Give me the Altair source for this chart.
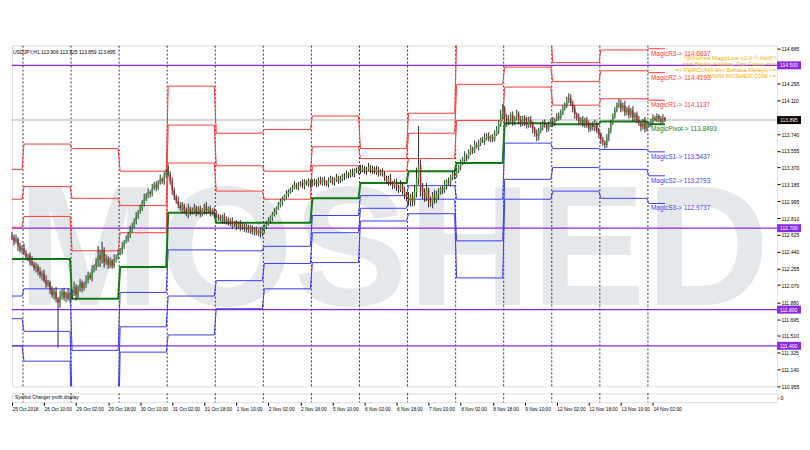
import json
import altair as alt
import pandas as pd

# ---------------- data ----------------
FIRST_OPEN = 112.62
CLOSE = [
    112.60, 112.55, 112.58, 112.50, 112.46, 112.48,
    112.42, 112.38, 112.40, 112.33, 112.30, 112.26, 112.28,
    112.22, 112.18, 112.20, 112.12, 112.08, 112.10,
    112.02, 111.96, 112.00, 111.92,
    111.88,
    111.95, 112.00, 111.93, 111.98, 111.92, 111.96,
    111.98, 112.05, 111.96, 112.02, 112.10, 112.04, 112.08,
    112.12, 112.18, 112.15, 112.24, 112.28, 112.33,
    112.40, 112.35, 112.45, 112.32, 112.36,
    112.30, 112.34, 112.28, 112.36, 112.38, 112.42,
    112.45, 112.50, 112.55, 112.58, 112.63, 112.68, 112.72,
    112.78, 112.83, 112.88, 112.92, 112.98, 113.02,
    113.06, 113.10, 113.08, 113.14, 113.18, 113.15,
    113.20, 113.24, 113.22, 113.28, 113.32, 113.30,
    113.22, 113.12, 113.05, 113.00, 112.96, 112.92,
    112.95, 112.90, 112.86, 112.92, 112.88, 112.90,
    112.93, 112.88, 112.91, 112.86, 112.90, 112.94, 112.89, 112.92, 112.87, 112.90, 112.86, 112.84,
    112.82, 112.80, 112.83, 112.78, 112.80, 112.76, 112.78, 112.74, 112.76, 112.72, 112.75, 112.71,
    112.73, 112.70, 112.72, 112.68, 112.70, 112.66, 112.69, 112.65, 112.67, 112.64, 112.68, 112.72,
    112.75, 112.78, 112.82, 112.85, 112.88, 112.92, 112.96, 112.99,
    113.02, 113.05, 113.08, 113.10, 113.13, 113.15, 113.18, 113.16,
    113.18, 113.20, 113.17, 113.21, 113.19, 113.22, 113.18, 113.20,
    113.22, 113.19, 113.23, 113.20, 113.24, 113.21, 113.18, 113.22, 113.25, 113.21, 113.23, 113.26, 113.22, 113.25, 113.28,
    113.27, 113.30, 113.28, 113.32, 113.30, 113.34, 113.33, 113.36,
    113.34, 113.37, 113.33, 113.35, 113.38, 113.34, 113.36, 113.32, 113.35, 113.31, 113.33, 113.29,
    113.26, 113.22, 113.25, 113.20, 113.17, 113.21, 113.16, 113.13, 113.18, 113.12,
    113.08, 113.04, 113.00, 113.05, 112.99,
    113.10, 113.25, 113.40, 113.15,
    113.10, 113.05, 113.12, 113.00, 112.98, 113.06, 113.02, 113.08,
    113.10, 113.14, 113.12, 113.18, 113.22, 113.20, 113.26, 113.30, 113.28, 113.34, 113.38, 113.42,
    113.46, 113.50, 113.48, 113.54, 113.58, 113.56, 113.62, 113.60, 113.64, 113.68, 113.66, 113.70,
    113.72, 113.68, 113.71, 113.69, 113.74, 113.78,
    113.85, 113.95, 114.02, 113.92, 113.88,
    113.90, 113.95, 113.88, 113.92, 113.96, 113.90, 113.86, 113.92, 113.88, 113.84, 113.90,
    113.85, 113.80, 113.75, 113.72, 113.78, 113.82, 113.86, 113.84,
    113.80, 113.84, 113.88, 113.86, 113.90, 113.94, 113.92,
    113.98, 114.02, 114.06, 114.10, 114.14, 114.08,
    114.02, 113.96, 113.92, 113.88, 113.90,
    113.86, 113.90, 113.84, 113.80, 113.85, 113.82, 113.86, 113.78,
    113.74, 113.68, 113.65, 113.62, 113.70,
    113.78, 113.86, 113.94, 114.00, 114.06, 114.08,
    114.02, 114.06, 113.98, 114.02, 113.95, 114.00, 113.92, 113.96, 113.90,
    113.86, 113.82, 113.88, 113.80, 113.84, 113.86,
    113.88, 113.92, 113.90, 113.94, 113.91, 113.88, 113.92, 113.895,
]
# upper / lower shadows in 0.01 yen
UP = [
    4,3,5,2,4,3,5,4,2,3,6,3,4,2,5,3,4,6,3,2,
    4,3,5,2,6,3,4,2,5,3,4,6,3,5,4,2,3,6,4,3,
    5,2,4,10,6,10,4,5,3,4,2,5,3,4,3,5,2,4,3,5,
    4,3,5,2,4,3,6,3,4,2,5,3,4,3,5,2,4,3,7,3,
    4,3,2,5,3,4,2,3,5,2,3,4,2,3,4,2,3,5,2,3,
    2,3,4,2,3,2,4,3,2,3,4,2,3,2,4,3,2,3,2,4,
    3,2,3,2,4,3,2,3,4,2,3,4,2,3,4,3,2,4,3,2,
    3,4,2,3,2,4,3,2,3,2,4,3,2,3,4,2,3,2,4,3,
    2,3,4,2,3,2,3,4,2,3,4,2,3,2,4,3,2,3,4,2,
    3,2,4,3,2,3,4,2,3,5,2,3,4,2,5,3,4,2,6,3,
    5,8,12,43,6,5,4,8,3,5,4,6,3,4,2,3,5,2,4,3,
    2,4,3,2,4,3,5,2,3,4,2,5,3,4,2,3,5,3,4,2,
    3,4,5,4,6,5,3,4,5,3,4,2,5,3,4,2,3,5,3,4,
    3,2,4,3,5,3,4,2,4,3,5,2,3,4,3,4,3,5,5,4,
    3,4,2,5,3,4,2,3,5,2,3,4,2,3,2,3,2,4,3,4,
    3,4,3,5,4,3,5,2,4,3,5,2,3,4,2,3,5,3,2,3,
    4,2,3,2,3,4,1,
]
DN = [
    3,4,2,5,3,4,2,3,5,4,2,3,5,4,3,6,2,4,3,5,
    3,5,4,50,6,4,3,5,2,4,5,3,6,4,2,5,3,4,3,2,
    4,3,5,6,8,4,6,3,5,4,3,2,4,3,2,4,3,2,3,4,
    3,2,4,3,2,3,4,2,3,4,3,2,4,3,2,3,4,2,3,4,
    5,4,3,4,3,5,4,3,5,4,3,4,5,3,4,3,5,4,3,4,
    3,4,3,4,3,5,3,4,3,4,5,3,4,3,4,3,4,5,3,4,
    3,4,3,4,5,3,4,3,2,3,4,2,3,2,3,4,2,3,4,2,
    3,2,3,4,2,3,4,2,3,4,2,3,4,3,2,3,4,2,3,2,
    3,4,2,3,2,3,4,2,3,2,3,4,2,3,4,2,3,4,2,3,
    4,2,3,4,3,2,4,3,5,3,4,3,5,4,3,5,6,4,5,6,
    5,4,6,7,10,8,6,5,7,4,6,5,4,6,3,4,3,5,3,4,
    3,4,2,3,4,2,3,4,2,3,4,3,2,4,3,2,4,3,2,3,
    4,3,2,4,3,4,5,6,4,3,5,4,3,5,4,3,5,4,3,4,
    5,4,6,5,3,4,3,4,3,2,4,3,2,3,2,3,2,3,2,3,
    4,5,3,4,3,4,5,3,4,3,4,5,3,4,5,4,4,3,4,3,
    2,3,2,3,4,3,4,3,4,3,4,3,4,3,5,3,4,3,3,4,
    3,2,3,4,3,2,2,
]

# daily pivot levels (one value per trading day)
DAY_START = [0, 6, 30, 54, 78, 102, 126, 150, 174, 198, 222, 246, 270, 294, 318]
LAST_BAR = 326
R3 = [113.35, 113.63, 113.58, 113.33, 114.27, 113.75, 113.79, 113.94, 113.58, 113.97, 114.76, 114.87, 114.53, 114.67, 114.6837]
R2 = [113.02, 113.16, 113.03, 112.95, 113.84, 113.39, 113.33, 113.60, 113.47, 113.75, 114.29, 114.48, 114.32, 114.44, 114.4193]
R1 = [112.71, 112.83, 112.45, 112.65, 113.42, 113.11, 113.02, 113.39, 113.33, 113.47, 113.89, 114.26, 114.06, 114.13, 114.1137]
PIV = [112.36, 112.36, 111.92, 112.27, 112.87, 112.76, 112.76, 113.03, 113.20, 113.33, 113.42, 113.86, 113.85, 113.88, 113.8493]
S1 = [111.95, 112.03, 111.35, 111.99, 112.46, 112.45, 112.50, 112.84, 113.06, 113.17, 113.02, 113.64, 113.58, 113.57, 113.5437]
S2 = [111.70, 111.56, 110.80, 111.61, 111.95, 112.12, 112.31, 112.65, 112.92, 113.02, 112.56, 113.24, 113.37, 113.35, 113.2793]
S3 = [111.40, 111.23, 110.20, 111.33, 111.52, 111.81, 112.03, 112.32, 112.78, 112.86, 112.15, 113.02, 113.11, 113.03, 112.9737]

LEVEL_NAMES = ["R3", "R2", "R1", "P", "S1", "S2", "S3"]
MAGIC_LABELS = ["MagicR3-> 114.6837", "MagicR2-> 114.4193", "MagicR1-> 114.1137",
                "MagicPivot-> 113.8493", "MagicS1-> 113.5437", "MagicS2-> 113.2793",
                "MagicS3-> 112.9737"]

X_LABELS = ["25 Oct 2018", "26 Oct 10:00", "29 Oct 02:00", "29 Oct 18:00", "30 Oct 10:00",
            "31 Oct 02:00", "31 Oct 18:00", "1 Nov 10:00", "2 Nov 02:00", "2 Nov 18:00",
            "5 Nov 10:00", "6 Nov 02:00", "6 Nov 18:00", "7 Nov 10:00", "8 Nov 02:00",
            "8 Nov 18:00", "9 Nov 10:00", "12 Nov 02:00", "12 Nov 18:00", "13 Nov 10:00",
            "14 Nov 02:00"]
X_LABEL_STEP = 16

Y_TICKS = [114.685, 114.295, 114.110, 113.740, 113.555, 113.370, 113.185, 112.995, 112.810,
           112.625, 112.440, 112.255, 112.070, 111.880, 111.695, 111.510, 111.325, 111.140,
           110.955]
H_LINES = [114.500, 112.700, 111.800, 111.400]
CURRENT = 113.895

TITLE = "USDJPY,H1  113.906 113.925 113.859 113.895"
BANNER = ["!![Moshed MagicLine v2.0 \u00ae Aktif]!!", "=== Berita, Analisa, Tips Forex ===",
          "=> PERCUMA dim Bahasa Melayu <=", "=> WWW.MOSHED.COM <="]
WATERMARK = "MOSHED"
SUB_TEXT = "Symbol Changer profit display"

# ---------------- build tables ----------------
W, H, HS = 768, 342, 9
FONT = "Liberation Sans"
opens = [FIRST_OPEN] + CLOSE[:-1]
candles = pd.DataFrame({
    "i": list(range(len(CLOSE))),
    "o": opens,
    "c": CLOSE,
})
candles["hi"] = [max(o, c) + u / 100 for o, c, u in zip(opens, CLOSE, UP)]
candles["lo"] = [min(o, c) - d / 100 for o, c, d in zip(opens, CLOSE, DN)]

rows = []
for name, vals in zip(LEVEL_NAMES, [R3, R2, R1, PIV, S1, S2, S3]):
    for d, s in enumerate(DAY_START):
        e = DAY_START[d + 1] - 1 if d + 1 < len(DAY_START) else LAST_BAR
        rows.append({"lvl": name, "i": s, "v": vals[d]})
        rows.append({"lvl": name, "i": e, "v": vals[d]})
piv = pd.DataFrame(rows)
last_vals = [R3[-1], R2[-1], R1[-1], PIV[-1], S1[-1], S2[-1], S3[-1]]
labels = pd.DataFrame({"lvl": LEVEL_NAMES, "v": last_vals, "t": MAGIC_LABELS, "i": [319] * 7})
seps = pd.DataFrame({"i": [s - 0.5 for s in DAY_START[1:]]})
hl = pd.DataFrame({"v": H_LINES, "t": [f"{v:.3f}" for v in H_LINES]})
cur = pd.DataFrame({"v": [CURRENT], "t": [f"{CURRENT:.3f}"]})

xsc = alt.Scale(domain=[0, 382], nice=False, zero=False)
ysc = alt.Scale(domain=[110.952, 114.718], nice=False, zero=False)
yax = alt.Axis(orient="right", values=Y_TICKS, format=".3f", title=None, grid=False,
               labelFontSize=5, labelFont=FONT, labelColor="#000", tickSize=3,
               tickColor="#000", labelPadding=1, domain=False, labelFlush=False,
               labelOverlap=False)


def X(f):
    return alt.X(f, type="quantitative", scale=xsc, axis=None)


def Y(f):
    return alt.Y(f, type="quantitative", scale=ysc, axis=yax)


lvl_colors = alt.Scale(domain=LEVEL_NAMES,
                       range=["#ff3b3b", "#ff3b3b", "#ff3b3b", "#137a13", "#3b3bff", "#3b3bff", "#3b3bff"])

base = alt.Chart(candles)

watermark = alt.Chart(pd.DataFrame({"t": [WATERMARK]})).mark_text(
    font=FONT, fontSize=172, fontWeight="bold", color="#e5e8eb", align="center",
    baseline="alphabetic").encode(x=alt.value(383), y=alt.value(260), text="t:N")

sep_rules = alt.Chart(seps).mark_rule(color="#333", strokeDash=[2, 2], strokeWidth=1).encode(x=X("i"))

hl_rules = alt.Chart(hl).mark_rule(color="#8a2be2", strokeWidth=1.2).encode(y=Y("v"))
cur_rule = alt.Chart(cur).mark_rule(color="#c8c8c8", strokeWidth=1.5).encode(y=Y("v"))

pivot_lines = alt.Chart(piv).transform_filter("datum.lvl != 'P'").mark_line(
    strokeWidth=1, clip=True).encode(
    x=X("i"), y=Y("v"), detail="lvl:N",
    color=alt.Color("lvl:N", scale=lvl_colors, legend=None), order="i:Q")
pivot_main = alt.Chart(piv).transform_filter("datum.lvl == 'P'").mark_line(
    strokeWidth=2, clip=True, color="#137a13").encode(x=X("i"), y=Y("v"), order="i:Q")

wicks = base.mark_rule(color="#2a2a2a", strokeWidth=1).encode(x=X("i"), y=Y("lo"), y2="hi")
bodies = base.mark_rule(strokeWidth=1.4).encode(
    x=X("i"), y=Y("o"), y2="c",
    color=alt.condition("datum.c >= datum.o", alt.value("#3a9a3a"), alt.value("#a82424")))

lvl_text = alt.Chart(labels).mark_text(font=FONT, fontSize=6.5, align="left", baseline="middle",
                                       dy=5).encode(
    x=X("i"), y=Y("v"), text="t:N",
    color=alt.Color("lvl:N", scale=lvl_colors, legend=None))

title_text = alt.Chart(pd.DataFrame({"t": [TITLE]})).mark_text(
    font=FONT, fontSize=5, align="left", baseline="middle", color="#000").encode(
    x=alt.value(1), y=alt.value(6), text="t:N")

banner_layers = [
    alt.Chart(pd.DataFrame({"t": [line]})).mark_text(
        font=FONT, fontSize=6, align="right", baseline="middle", color="#f5b000").encode(
        x=alt.value(W - 1), y=alt.value(12 + 6 * k), text="t:N")
    for k, line in enumerate(BANNER)
]

hl_box = alt.Chart(hl).mark_rect(color="#8a2be2", yOffset=-4, y2Offset=4).encode(
    x=alt.value(W), x2=alt.value(W + 24), y=Y("v"), y2="v")
hl_box_t = alt.Chart(hl).mark_text(font=FONT, fontSize=5, align="left", baseline="middle",
                                   color="#fff").encode(x=alt.value(W + 3), y=Y("v"), text="t:N")
cur_box = alt.Chart(cur).mark_rect(color="#000", yOffset=-4, y2Offset=4).encode(
    x=alt.value(W), x2=alt.value(W + 24), y=Y("v"), y2="v")
cur_box_t = alt.Chart(cur).mark_text(font=FONT, fontSize=5, align="left", baseline="middle",
                                     color="#fff").encode(x=alt.value(W + 3), y=Y("v"), text="t:N")

main = alt.layer(watermark, sep_rules, hl_rules, cur_rule, pivot_lines, pivot_main, wicks, bodies,
                 lvl_text, title_text, *banner_layers, hl_box, hl_box_t, cur_box, cur_box_t
                 ).properties(width=W, height=H)

label_expr = json.dumps(X_LABELS) + f"[round(datum.value / {X_LABEL_STEP})]"
xax = alt.Axis(values=[k * X_LABEL_STEP for k in range(len(X_LABELS))], labelExpr=label_expr,
               labelAlign="left", labelFontSize=4.8, labelFont=FONT, labelColor="#000",
               tickSize=3, tickColor="#000", labelPadding=1, domain=False, grid=False,
               labelOverlap=False, labelFlush=False, title=None)
sub_seps = alt.Chart(seps).mark_rule(color="#333", strokeDash=[2, 2], strokeWidth=1).encode(
    x=alt.X("i:Q", scale=xsc, axis=xax),
    y=alt.value(0), y2=alt.value(HS))
sub_zero = alt.Chart(pd.DataFrame({"z": [0]})).mark_point(opacity=0).encode(
    x=alt.value(0),
    y=alt.Y("z:Q", scale=alt.Scale(domain=[-1, 1]),
            axis=alt.Axis(orient="right", values=[0], title=None, grid=False, labelFontSize=5.5,
                          labelFont=FONT, tickSize=2, domain=False, labelPadding=1)))
sub_text = alt.Chart(pd.DataFrame({"t": [SUB_TEXT]})).mark_text(
    font=FONT, fontSize=4.8, align="left", baseline="middle", color="#000").encode(
    x=alt.value(3), y=alt.value(HS / 2), text="t:N")
sub = alt.layer(sub_seps, sub_zero, sub_text).properties(width=W, height=HS)

chart = alt.vconcat(main, sub, spacing=2).properties(
    padding={"left": 0, "top": 36, "right": 0, "bottom": 0}
).configure_view(stroke="#7a7a7a", strokeWidth=1).configure(background="#ffffff")

chart.save("out.html", embed_options={"renderer": "svg", "actions": False})
